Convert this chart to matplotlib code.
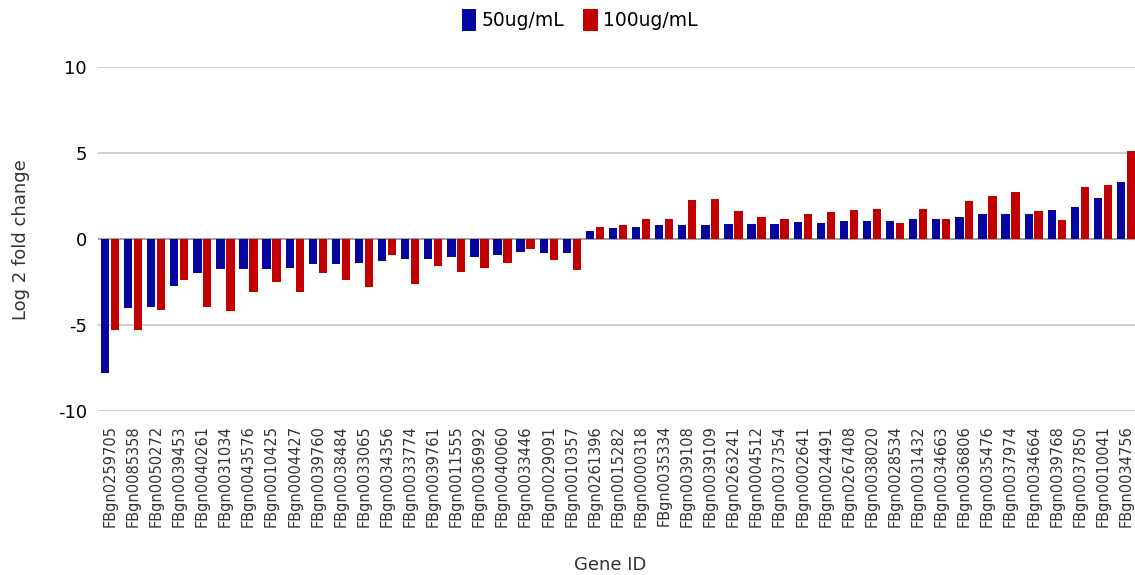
import matplotlib.pyplot as plt
import numpy as np

genes = [
    "FBgn0259705", "FBgn0085358", "FBgn0050272", "FBgn0039453", "FBgn0040261",
    "FBgn0031034", "FBgn0043576", "FBgn0010425", "FBgn0004427", "FBgn0039760",
    "FBgn0038484", "FBgn0033065", "FBgn0034356", "FBgn0033774", "FBgn0039761",
    "FBgn0011555", "FBgn0036992", "FBgn0040060", "FBgn0033446", "FBgn0029091",
    "FBgn0010357", "FBgn0261396", "FBgn0015282", "FBgn0000318", "FBgn0035334",
    "FBgn0039108", "FBgn0039109", "FBgn0263241", "FBgn0004512", "FBgn0037354",
    "FBgn0002641", "FBgn0024491", "FBgn0267408", "FBgn0038020", "FBgn0028534",
    "FBgn0031432", "FBgn0034663", "FBgn0036806", "FBgn0035476", "FBgn0037974",
    "FBgn0034664", "FBgn0039768", "FBgn0037850", "FBgn0010041", "FBgn0034756",
]

# log2 fold change, 50ug/mL
fc_50 = [
    -7.8, -4.0, -3.95, -2.7, -1.94, -1.74, -1.72, -1.72, -1.65, -1.43,
    -1.42, -1.4, -1.26, -1.16, -1.14, -1.06, -1.04, -0.93, -0.76, -0.78,
    -0.78, 0.5, 0.66, 0.72, 0.8, 0.8, 0.8, 0.87, 0.87, 0.87,
    0.99, 0.97, 1.05, 1.05, 1.05, 1.15, 1.15, 1.32, 1.49, 1.49,
    1.49, 1.72, 1.88, 2.4, 3.35,
]

# log2 fold change, 100ug/mL
fc_100 = [
    -5.27, -5.27, -4.1, -2.36, -3.97, -4.2, -3.1, -2.5, -3.1, -1.94,
    -2.35, -2.8, -0.9, -2.6, -1.53, -1.88, -1.69, -1.4, -0.56, -1.22,
    -1.78, 0.7, 0.8, 1.15, 1.15, 2.27, 2.35, 1.65, 1.3, 1.15,
    1.47, 1.6, 1.72, 1.76, 0.93, 1.76, 1.15, 2.25, 2.5, 2.73,
    1.65, 1.12, 3.02, 3.14, 5.14,
]

blue = "#0505a0"
red = "#c20000"

fig = plt.figure(figsize=(11.35, 5.75), dpi=100)
ax = fig.add_axes([0.0863, 0.285, 0.9137, 0.598])

x = np.arange(len(genes))
w = 0.36
ax.bar(x - 0.215, fc_50, width=w, color=blue, label="50ug/mL", zorder=3)
ax.bar(x + 0.215, fc_100, width=w, color=red, label="100ug/mL", zorder=3)

ax.set_xlim(-0.52, len(genes) - 1 + 0.39)
ax.set_ylim(-10, 10)
ax.set_yticks([-10, -5, 0, 5, 10])
ax.set_yticklabels(["-10", "-5", "0", "5", "10"], fontsize=13)
ax.set_xticks(x)
ax.set_xticklabels(genes, rotation=90, fontsize=10.5, color="#333333")
ax.tick_params(axis="both", length=0)
ax.tick_params(axis="y", pad=8)
ax.tick_params(axis="x", pad=10)

ax.grid(axis="y", color="#c8c8c8", linewidth=1.2, zorder=0)
ax.axhline(0, color="#999999", linewidth=1.2, zorder=2)
for s in ax.spines.values():
    s.set_visible(False)

ax.set_ylabel("Log 2 fold change", fontsize=13, color="#333333")
ax.yaxis.set_label_coords(-0.066, 0.5)
ax.set_xlabel("Gene ID", fontsize=13, color="#333333")
ax.xaxis.set_label_coords(0.494, -0.42)

fig.legend(loc="center", bbox_to_anchor=(580 / 1135, 1 - 20 / 575), ncol=2,
           frameon=False, fontsize=13.5, handlelength=0.75, handleheight=1.5,
           handletextpad=0.3, columnspacing=1.0)

fig.savefig("out.png", dpi=100)
